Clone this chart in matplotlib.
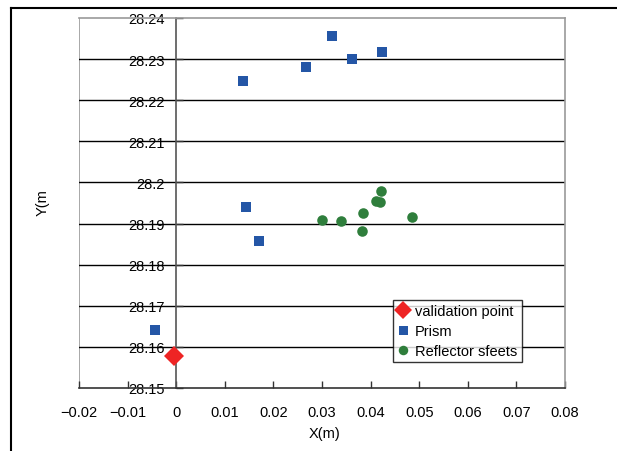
import matplotlib.pyplot as plt
from matplotlib.lines import Line2D

# validation point
val_x = [-0.0005]
val_y = [28.1579]

# prism measurements
prism_x = [0.0138, 0.0321, 0.0267, 0.0362, 0.0424, 0.0144, 0.0170, -0.0044]
prism_y = [28.2247, 28.2356, 28.2281, 28.2300, 28.2317, 28.1940, 28.1858, 28.1641]

# reflector sheet measurements
refl_x = [0.0301, 0.0340, 0.0384, 0.0421, 0.0411, 0.0419, 0.0485, 0.0382]
refl_y = [28.1909, 28.1906, 28.1925, 28.1978, 28.1954, 28.1952, 28.1917, 28.1883]

x_ticks = [-0.02, -0.01, 0, 0.01, 0.02, 0.03, 0.04, 0.05, 0.06, 0.07, 0.08]
x_labels = ["\u22120.02", "\u22120.01", "0", "0.01", "0.02", "0.03", "0.04",
            "0.05", "0.06", "0.07", "0.08"]
y_ticks = [28.15, 28.16, 28.17, 28.18, 28.19, 28.2, 28.21, 28.22, 28.23, 28.24]
y_labels = ["28.15", "28.16", "28.17", "28.18", "28.19", "28.2", "28.21",
            "28.22", "28.23", "28.24"]

plt.rcParams['font.family'] = ['Liberation Sans', 'DejaVu Sans']

fig = plt.figure(figsize=(6.17, 4.52), dpi=100)
ax = fig.add_axes([79 / 617, 1 - 389 / 452, 486 / 617, 370 / 452])

blue = '#2456A6'
green = '#2F7E3C'
red = '#EE2424'

ax.plot(prism_x, prism_y, 's', color=blue, ms=7.2, mew=0, label='Prism', zorder=4)
ax.plot(refl_x, refl_y, 'o', color=green, ms=7.6, mew=0, label='Reflector sfeets', zorder=4)
ax.plot(val_x, val_y, 'D', color=red, ms=10, mew=0, label='validation point', zorder=5)

ax.set_xlim(-0.02, 0.08)
ax.set_ylim(28.15, 28.24)

# gridlines
for yv in y_ticks[1:-1]:
    ax.axhline(yv, color='black', lw=1, zorder=1)

# plot area frame
ax.spines['left'].set_position(('data', 0))
ax.spines['left'].set_color('#555555')
ax.spines['left'].set_linewidth(1.2)
ax.spines['top'].set_color('#999999')
ax.spines['right'].set_color('#999999')
ax.spines['top'].set_linewidth(1.2)
ax.spines['right'].set_linewidth(1.2)
ax.spines['bottom'].set_color('#333333')
ax.spines['bottom'].set_linewidth(1.2)
ax.axvline(-0.02, color='#999999', lw=1.2, zorder=0)

ax.set_xticks(x_ticks)
ax.set_xticklabels(x_labels, fontsize=10.5)
ax.set_yticks(y_ticks)
ax.set_yticklabels(y_labels, fontsize=10.5)
ax.tick_params(axis='both', direction='in', length=5, width=1, color='#333333')
ax.tick_params(axis='x', pad=12)
ax.tick_params(axis='y', pad=8)

fig.text(325 / 617, 1 - 434 / 452, 'X(m)', fontsize=10.5, ha='center', va='center')
fig.text(43 / 617, 1 - 203 / 452, 'Y(m', fontsize=10.5, ha='center', va='center',
         rotation=90)

handles, labels = ax.get_legend_handles_labels()
order = [2, 0, 1]
leg = ax.legend([handles[i] for i in order], [labels[i] for i in order],
                loc='upper left', bbox_to_anchor=((393 - 79) / 486, (389 - 301) / 370),
                fontsize=10.5, frameon=True, fancybox=False, borderpad=0.3,
                handlelength=0.8, handletextpad=0.4, labelspacing=0.4,
                borderaxespad=0, markerscale=0.9)
leg.get_frame().set_edgecolor('black')
leg.get_frame().set_linewidth(1)

# outer frame
fig.add_artist(Line2D([11 / 617, 1], [1 - 9 / 452, 1 - 9 / 452], color='black', lw=1.5))
fig.add_artist(Line2D([11 / 617, 11 / 617], [0, 1 - 9 / 452], color='black', lw=1.5))

fig.savefig('out.png', dpi=100)
